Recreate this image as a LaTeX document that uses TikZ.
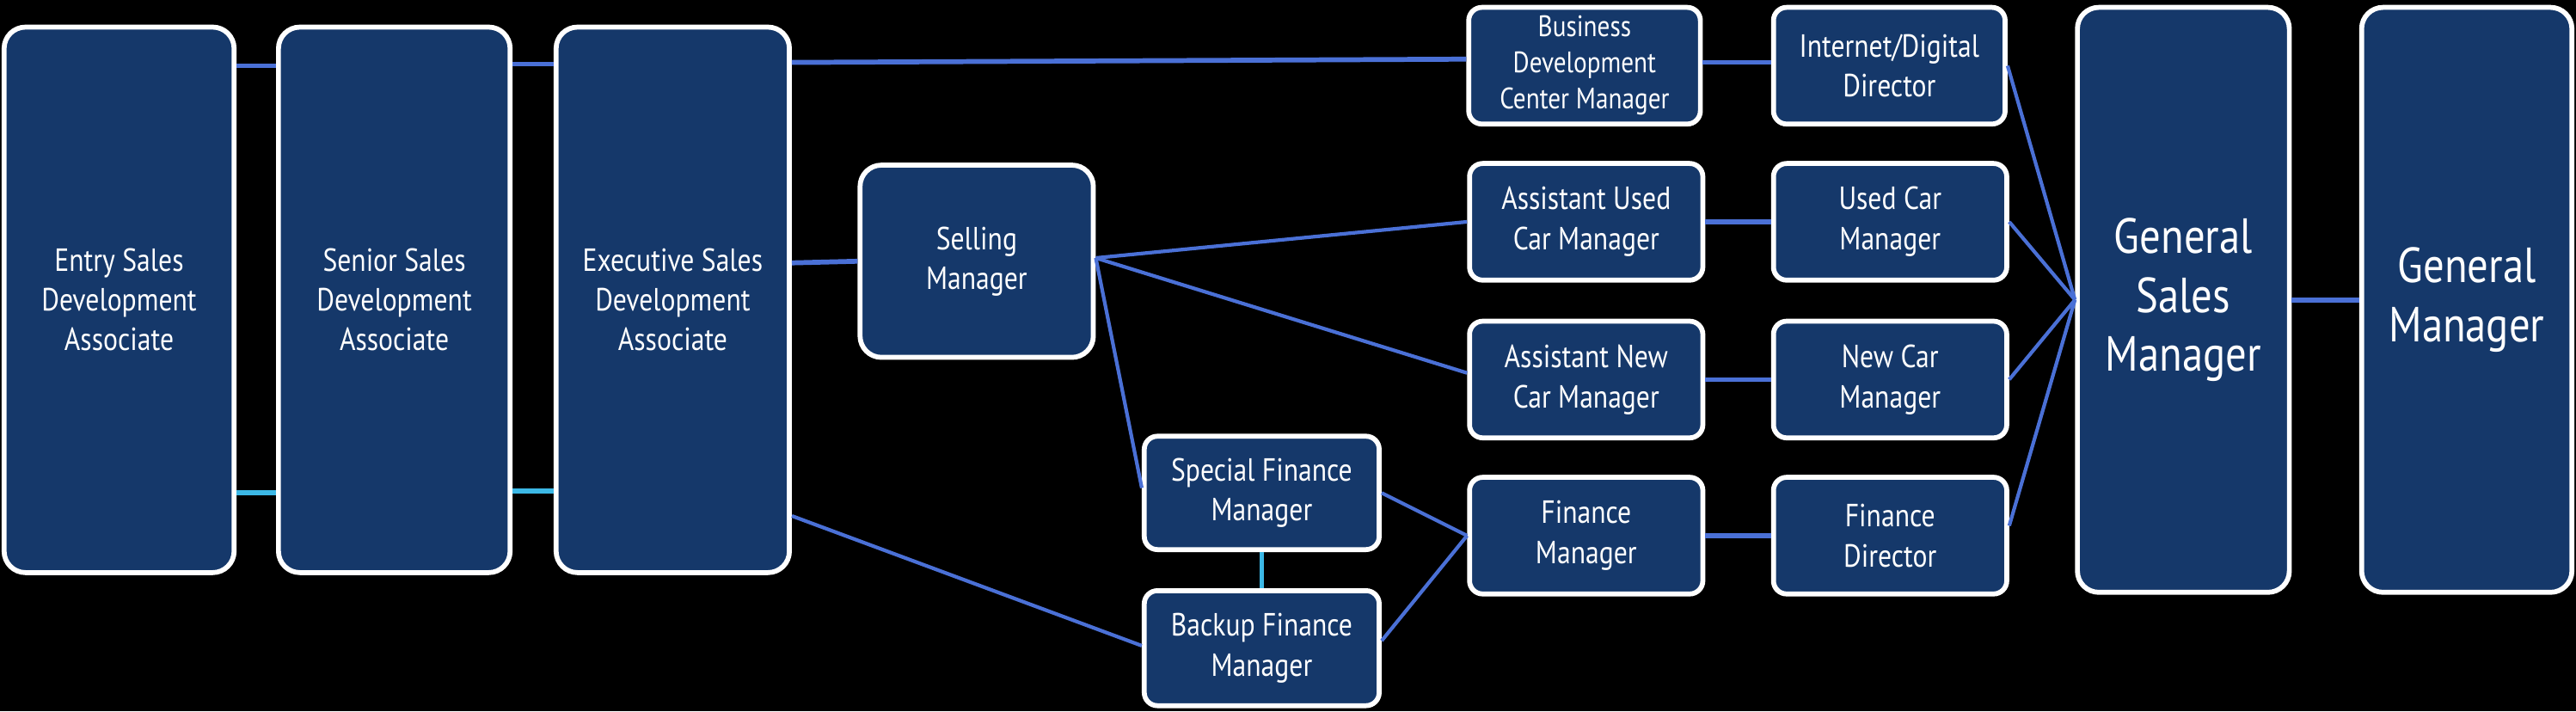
\documentclass[tikz,border=0pt]{standalone}
\usepackage{fontspec}
\setmainfont{PT Sans}[FakeStretch=0.85]
\definecolor{navy}{HTML}{15386A}
\definecolor{lnblue}{HTML}{4A70D6}
\definecolor{lncyan}{HTML}{3CB8E6}
\begin{document}
\begin{tikzpicture}[x=1pt,y=-1pt,
  box/.style={draw=white,line width=3pt,fill=navy,rounded corners=10pt,text=white,align=center,inner sep=0pt},
  bigbox/.style={box,rounded corners=13pt,font=\fontsize{19.5}{24}\selectfont},
  smallbox/.style={box,rounded corners=8pt,font=\fontsize{19.5}{24.5}\selectfont},
  hugebox/.style={box,rounded corners=13pt,font=\fontsize{30}{36}\selectfont},
  conn/.style={lnblue,line width=3pt},
  diag/.style={lnblue,line width=2.2pt},
  cconn/.style={lncyan,line width=3pt}]
\fill[black] (0,0) rectangle (1568,433);
\useasboundingbox (0,0) rectangle (1568,433);
% left column boxes
\node[bigbox,minimum width=140pt,minimum height=332pt] (b1) at (72.5,182.5) {Entry Sales\\Development\\Associate};
\node[bigbox,minimum width=141pt,minimum height=332pt] (b2) at (240,182.5) {Senior Sales\\Development\\Associate};
\node[bigbox,minimum width=142pt,minimum height=332pt] (b3) at (409.5,182.5) {Executive Sales\\Development\\Associate};
\node[bigbox,minimum width=142pt,minimum height=117pt] (sell) at (594.5,159) {Selling\\Manager};
% middle boxes
\node[smallbox,minimum width=141pt,minimum height=71pt,font=\fontsize{18}{22}\selectfont] (bdc) at (964.5,40) {Business\\Development\\Center Manager};
\node[smallbox,minimum width=141pt,minimum height=71pt] (int) at (1150,40) {Internet/Digital\\Director};
\node[smallbox,minimum width=142pt,minimum height=71pt] (aucm) at (965.5,135) {Assistant Used\\Car Manager};
\node[smallbox,minimum width=142pt,minimum height=71pt] (ucm) at (1150.5,135) {Used Car\\Manager};
\node[smallbox,minimum width=142pt,minimum height=71pt] (ancm) at (965.5,231) {Assistant New\\Car Manager};
\node[smallbox,minimum width=142pt,minimum height=71pt] (ncm) at (1150.5,231) {New Car\\Manager};
\node[smallbox,minimum width=142pt,minimum height=71pt] (fm) at (965.5,326) {Finance\\Manager};
\node[smallbox,minimum width=142pt,minimum height=71pt] (fd) at (1150.5,326) {Finance\\Director};
\node[smallbox,minimum width=143pt,minimum height=69pt] (sfm) at (768,300) {Special Finance\\Manager};
\node[smallbox,minimum width=143pt,minimum height=70pt] (bfm) at (768,394.5) {Backup Finance\\Manager};
% right boxes
\node[hugebox,minimum width=129pt,minimum height=356pt] (gsm) at (1329,182.5) {General\\Sales\\Manager};
\node[hugebox,minimum width=128pt,minimum height=356pt] (gm) at (1501.5,182.5) {General\\Manager};
% connectors
\draw[conn] ([yshift=142.5pt]b1.east) -- ([yshift=142.5pt]b2.west);
\draw[cconn] ([yshift=-117.5pt]b1.east) -- ([yshift=-117.5pt]b2.west);
\draw[conn] ([yshift=143.5pt]b2.east) -- ([yshift=143.5pt]b3.west);
\draw[cconn] ([yshift=-116.5pt]b2.east) -- ([yshift=-116.5pt]b3.west);
\draw[conn] ([yshift=144.5pt]b3.east) -- ([yshift=4pt]bdc.west);
\draw[conn] ([yshift=22.5pt]b3.east) -- (sell.west);
\draw[diag] ([yshift=-131.5pt]b3.east) -- ([yshift=1.5pt]bfm.west);
\draw[diag] ([yshift=2pt]sell.east) -- (aucm.west);
\draw[diag] ([yshift=2pt]sell.east) -- ([yshift=4pt]ancm.west);
\draw[diag] ([yshift=2pt]sell.east) -- ([yshift=3pt]sfm.west);
\draw[diag] (sfm.east) -- (fm.west);
\draw[diag] ([yshift=4.5pt]bfm.east) -- (fm.west);
\draw[cconn] (sfm.south) -- (bfm.north);
\draw[conn] ([yshift=2pt]bdc.east) -- ([yshift=2pt]int.west);
\draw[conn] (aucm.east) -- (ucm.west);
\draw[conn] (ancm.east) -- (ncm.west);
\draw[conn] (fm.east) -- (fd.west);
\draw[diag] (int.east) -- (gsm.west);
\draw[diag] (ucm.east) -- (gsm.west);
\draw[diag] (ncm.east) -- (gsm.west);
\draw[diag] ([yshift=6pt]fd.east) -- (gsm.west);
\draw[conn] (gsm.east) -- (gm.west);
\end{tikzpicture}
\end{document}
